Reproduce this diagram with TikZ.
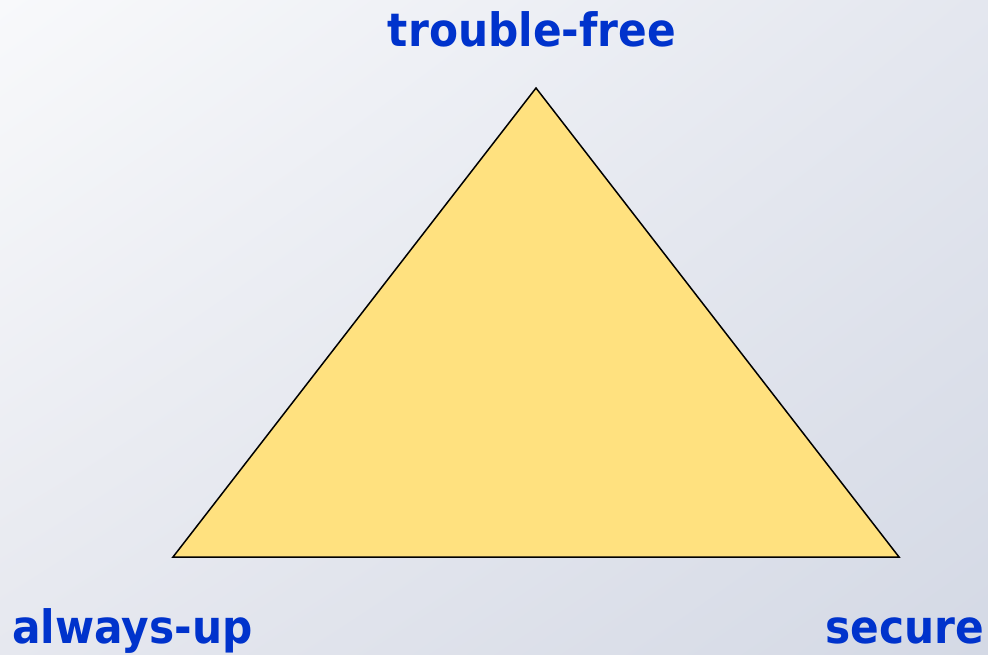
\documentclass[tikz,border=0pt]{standalone}
\usepackage{fontspec}
\usetikzlibrary{shadings}
\newfontfamily\labfont{DejaVu Sans}[FakeStretch=0.92]
\definecolor{bgTL}{HTML}{F8F9FB}
\definecolor{bgTR}{HTML}{E4E7EF}
\definecolor{bgBL}{HTML}{E6E8EF}
\definecolor{bgBR}{HTML}{D4D9E5}
\definecolor{trifill}{HTML}{FFE17F}
\definecolor{labblue}{HTML}{0033CC}
\tikzset{
  lab/.style={text=labblue, font=\labfont\bfseries\fontsize{46}{50}\selectfont, inner sep=0pt},
  tri/.style={fill=trifill, draw=black, line width=1.5pt, line join=miter}
}
\begin{document}
\begin{tikzpicture}[x=1pt,y=-1pt]
\shade[upper left=bgTL, upper right=bgTR, lower left=bgBL, lower right=bgBR] (0,0) rectangle (988,654);
\useasboundingbox (0,0) rectangle (988,654);
\coordinate (top) at (536,88);
\coordinate (bl) at (173,557);
\coordinate (br) at (899,557);
\draw[tri] (top) -- (bl) -- (br) -- cycle;
\node[lab, anchor=base] (tf) at (532,46) {trouble-free};
\node[lab, anchor=base west] (au) at (12,643) {always-up};
\node[lab, anchor=base east] (se) at (984,643) {secure};
\end{tikzpicture}
\end{document}
